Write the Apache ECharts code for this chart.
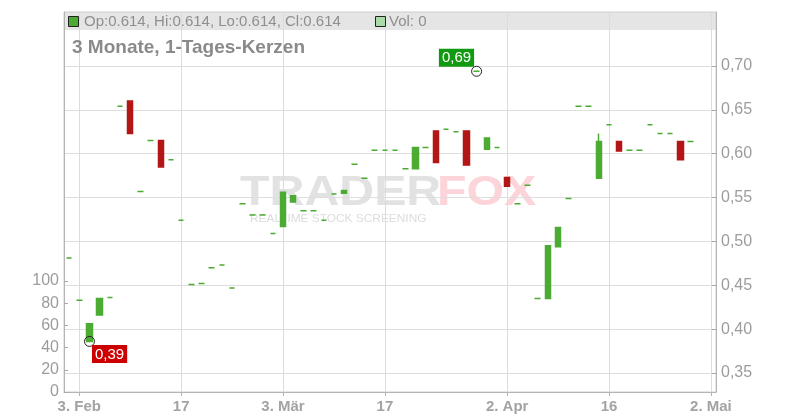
<!DOCTYPE html>
<html>
<head>
<meta charset="utf-8">
<script src="https://cdn.jsdelivr.net/npm/echarts@6/dist/echarts.min.js"></script>
<style>html,body{margin:0;padding:0;background:#fff}#c{width:800px;height:420px}</style>
</head>
<body>
<div id="c"></div>
<script>
var dates = ['31.01','03.02','04.02','05.02','06.02','07.02','10.02','11.02','12.02','13.02',
'14.02','17.02','18.02','19.02','20.02','21.02','24.02','25.02','26.02','27.02',
'28.02','03.03','04.03','05.03','06.03','07.03','10.03','11.03','12.03','13.03',
'14.03','17.03','18.03','19.03','20.03','21.03','24.03','25.03','26.03','27.03',
'28.03','31.03','01.04','02.04','03.04','04.04','07.04','08.04','09.04','10.04',
'11.04','14.04','15.04','16.04','17.04','22.04','23.04','24.04','25.04','28.04',
'29.04','30.04','01.05','02.05'];
var opens = [0.481,0.433,0.386,0.416,0.436,0.654,0.660,0.557,0.615,0.615,
0.593,0.524,0.451,0.452,0.470,0.473,0.447,0.543,0.530,0.530,
0.509,0.517,0.545,0.535,0.535,0.524,0.554,0.555,0.588,0.572,
0.604,0.604,0.604,0.583,0.583,0.607,0.626,0.628,0.625,0.626,
0.694,0.605,0.607,0.573,0.543,0.564,0.435,0.435,0.494,0.549,
0.654,0.654,0.572,0.633,0.614,0.604,0.604,0.633,0.623,0.623,
0.614,0.614];
var closes = [0.481,0.433,0.406,0.435,0.436,0.654,0.623,0.557,0.615,0.585,
0.593,0.524,0.451,0.452,0.470,0.473,0.447,0.543,0.530,0.530,
0.509,0.556,0.552,0.535,0.535,0.524,0.554,0.558,0.588,0.572,
0.604,0.604,0.604,0.583,0.607,0.607,0.590,0.628,0.625,0.587,
0.694,0.618,0.607,0.563,0.543,0.564,0.435,0.495,0.516,0.549,
0.654,0.654,0.614,0.633,0.603,0.604,0.604,0.633,0.623,0.623,
0.593,0.614];
var lows = [0.481,0.433,0.386,0.416,0.436,0.654,0.623,0.557,0.615,0.585,
0.593,0.524,0.451,0.452,0.470,0.473,0.447,0.543,0.530,0.530,
0.509,0.517,0.545,0.535,0.535,0.524,0.554,0.555,0.588,0.572,
0.604,0.604,0.604,0.583,0.583,0.607,0.590,0.628,0.625,0.587,
0.694,0.605,0.607,0.563,0.543,0.564,0.435,0.435,0.494,0.549,
0.654,0.654,0.572,0.633,0.603,0.604,0.604,0.633,0.623,0.623,
0.593,0.614];
var highs = [0.481,0.433,0.406,0.435,0.436,0.654,0.660,0.557,0.615,0.615,
0.593,0.524,0.451,0.452,0.470,0.473,0.447,0.543,0.530,0.530,
0.509,0.556,0.552,0.535,0.535,0.524,0.554,0.558,0.588,0.572,
0.604,0.604,0.604,0.583,0.607,0.607,0.626,0.628,0.625,0.626,
0.694,0.618,0.607,0.573,0.543,0.564,0.435,0.495,0.516,0.549,
0.654,0.654,0.623,0.633,0.614,0.604,0.604,0.633,0.623,0.623,
0.614,0.614];
var volumes = [0,0,0,0,0,0,0,0,0,0,0,0,0,0,0,0,0,0,0,0,0,0,0,0,0,0,0,0,0,0,0,
0,0,0,0,0,0,0,0,0,0,0,0,0,0,0,0,0,0,0,0,0,0,0,0,0,0,0,0,0,0,0];
var tickDates = ['03.02','17.02','03.03','17.03','02.04','16.04','02.05'];
var tickTexts = ['3. Feb','17','3. Mär','17','2. Apr','16','2. Mai'];
var priceTicks = [0.35,0.40,0.45,0.50,0.55,0.60,0.65,0.70];
var volTicks = [0,20,40,60,80,100];
var titleText = '3 Monate, 1-Tages-Kerzen';

var GREEN = '#4bab32', RED = '#b31616';
var FONT = "'Liberation Sans', Arial, sans-serif";

var candleData = dates.map(function (d, i) {
  if (i >= opens.length) return '-';
  return [opens[i], closes[i], lows[i], highs[i]];
});
var volData = dates.map(function (d, i) { return i < volumes.length ? volumes[i] : '-'; });

var maxIdx = 0, minIdx = 0;
for (var i = 0; i < highs.length; i++) {
  if (highs[i] > highs[maxIdx]) maxIdx = i;
  if (lows[i] < lows[minIdx]) minIdx = i;
}
function deFmt(v) { return v.toFixed(2).replace('.', ','); }
var last = opens.length - 1;
var legendText = 'Op:' + opens[last].toFixed(3) + ', Hi:' + highs[last].toFixed(3) +
  ', Lo:' + lows[last].toFixed(3) + ', Cl:' + closes[last].toFixed(3);
var volText = 'Vol: ' + volumes[last];

var chart = echarts.init(document.getElementById('c'), null, {renderer: 'canvas'});
chart.setOption({
  animation: false,
  backgroundColor: '#fff',
  textStyle: {fontFamily: FONT},
  grid: {left: 64, right: 84, top: 12, bottom: 28, show: true, borderColor: '#cfcfcf', borderWidth: 1, backgroundColor: 'transparent'},
  xAxis: {
    type: 'category',
    data: dates,
    boundaryGap: true,
    axisLine: {lineStyle: {color: '#b4b4b4'}},
    axisTick: {show: true, alignWithLabel: true, length: 4, lineStyle: {color: '#b4b4b4'},
      interval: function (idx, val) { return tickDates.indexOf(val) >= 0; }},
    axisLabel: {
      interval: function (idx, val) { return tickDates.indexOf(val) >= 0; },
      formatter: function (val) { var k = tickDates.indexOf(val); return k >= 0 ? tickTexts[k] : ''; },
      color: '#a3a3a3', fontWeight: 'bold', fontSize: 15, margin: 7, fontFamily: FONT
    },
    splitLine: {show: false}
  },
  yAxis: [{
    type: 'value',
    position: 'right',
    min: 0.3283, max: 0.7616,
    splitNumber: 8,
    scale: true,
    axisLine: {show: true, lineStyle: {color: '#b4b4b4'}},
    axisTick: {show: true, inside: true, length: 5, lineStyle: {color: '#a8a8a8'}, customValues: priceTicks},
    axisLabel: {color: '#9c9c9c', fontSize: 16, margin: 5, fontFamily: FONT, customValues: priceTicks,
      formatter: function (v) { return deFmt(v); }},
    splitLine: {show: true, lineStyle: {color: '#dedede', width: 1}}
  }, {
    type: 'value',
    position: 'left',
    min: 0, max: 342, interval: 20,
    axisLine: {show: true, lineStyle: {color: '#b4b4b4'}},
    axisTick: {show: true, inside: true, length: 4, lineStyle: {color: '#a8a8a8'}, customValues: volTicks},
    axisLabel: {color: '#9c9c9c', fontSize: 16, margin: 5, fontFamily: FONT, customValues: volTicks},
    splitLine: {show: false}
  }],
  graphic: [
    {type: 'rect', z: -10, silent: true, shape: {x: 64, y: 12, width: 652, height: 18}, style: {fill: '#e5e5e5'}},
    {type: 'rect', z: 10, silent: true, shape: {x: 68.5, y: 16.5, width: 10, height: 10}, style: {fill: GREEN, stroke: '#222', lineWidth: 1}},
    {type: 'text', z: 10, silent: true, x: 84, y: 22, style: {text: legendText, fill: '#8f8f8f', font: '15px ' + FONT, textVerticalAlign: 'middle'}},
    {type: 'rect', z: 10, silent: true, shape: {x: 375.5, y: 16.5, width: 10, height: 10}, style: {fill: '#a9dba9', stroke: '#222', lineWidth: 1}},
    {type: 'text', z: 10, silent: true, x: 389, y: 22, style: {text: volText, fill: '#8f8f8f', font: '15px ' + FONT, textVerticalAlign: 'middle'}},
    {type: 'text', z: 10, silent: true, x: 72, y: 48, style: {text: titleText, fill: '#8a8a8a', font: 'bold 19px ' + FONT, textVerticalAlign: 'middle'}},
    {type: 'text', z: -5, silent: true, x: 240, y: 193, scaleX: 1.15, style: {text: 'TRADER', fill: '#e2e2e2', font: 'bold 42px ' + FONT, textVerticalAlign: 'middle'}},
    {type: 'text', z: -5, silent: true, x: 437, y: 193, scaleX: 1.15, style: {text: 'FOX', fill: '#fcd4d9', font: 'bold 42px ' + FONT, textVerticalAlign: 'middle'}},
    {type: 'text', z: -5, silent: true, x: 250, y: 219, scaleX: 1.08, style: {text: 'REALTIME STOCK SCREENING', fill: '#dcdcdc', font: '11px ' + FONT, textVerticalAlign: 'middle'}}
  ],
  series: [{
    type: 'candlestick',
    yAxisIndex: 0,
    z: 3,
    data: candleData,
    barWidth: 6,
    itemStyle: {color: GREEN, color0: RED, borderColor: GREEN, borderColor0: RED, borderColorDoji: GREEN, borderWidth: 1.5},
    markLine: {
      z: 1,
      silent: true, symbol: ['none', 'none'], animation: false,
      label: {show: false},
      lineStyle: {color: '#dcdcdc', type: 'solid', width: 1},
      data: tickDates.map(function (d) { return {xAxis: d}; })
    },
    markPoint: {
      z: 6,
      silent: true, animation: false,
      symbol: 'circle', symbolSize: 10,
      itemStyle: {color: 'rgba(0,0,0,0)', borderColor: '#222', borderWidth: 1},
      data: [
        {coord: [dates[maxIdx], highs[maxIdx]], value: highs[maxIdx],
          label: {show: true, formatter: deFmt(highs[maxIdx]), color: '#fff', backgroundColor: '#119a11',
            padding: [2, 3, 1, 3], fontSize: 15, fontFamily: FONT, position: [3, 1], align: 'right', verticalAlign: 'bottom'}},
        {coord: [dates[minIdx], lows[minIdx]], value: lows[minIdx],
          label: {show: true, formatter: deFmt(lows[minIdx]), color: '#fff', backgroundColor: '#cc0000',
            padding: [2, 3, 1, 3], fontSize: 15, fontFamily: FONT, position: [8, 9], align: 'left', verticalAlign: 'top'}}
      ]
    }
  }, {
    type: 'bar',
    yAxisIndex: 1,
    z: 2,
    data: volData,
    barWidth: 6,
    itemStyle: {color: '#a9dba9'}
  }]
});
</script>
</body>
</html>
